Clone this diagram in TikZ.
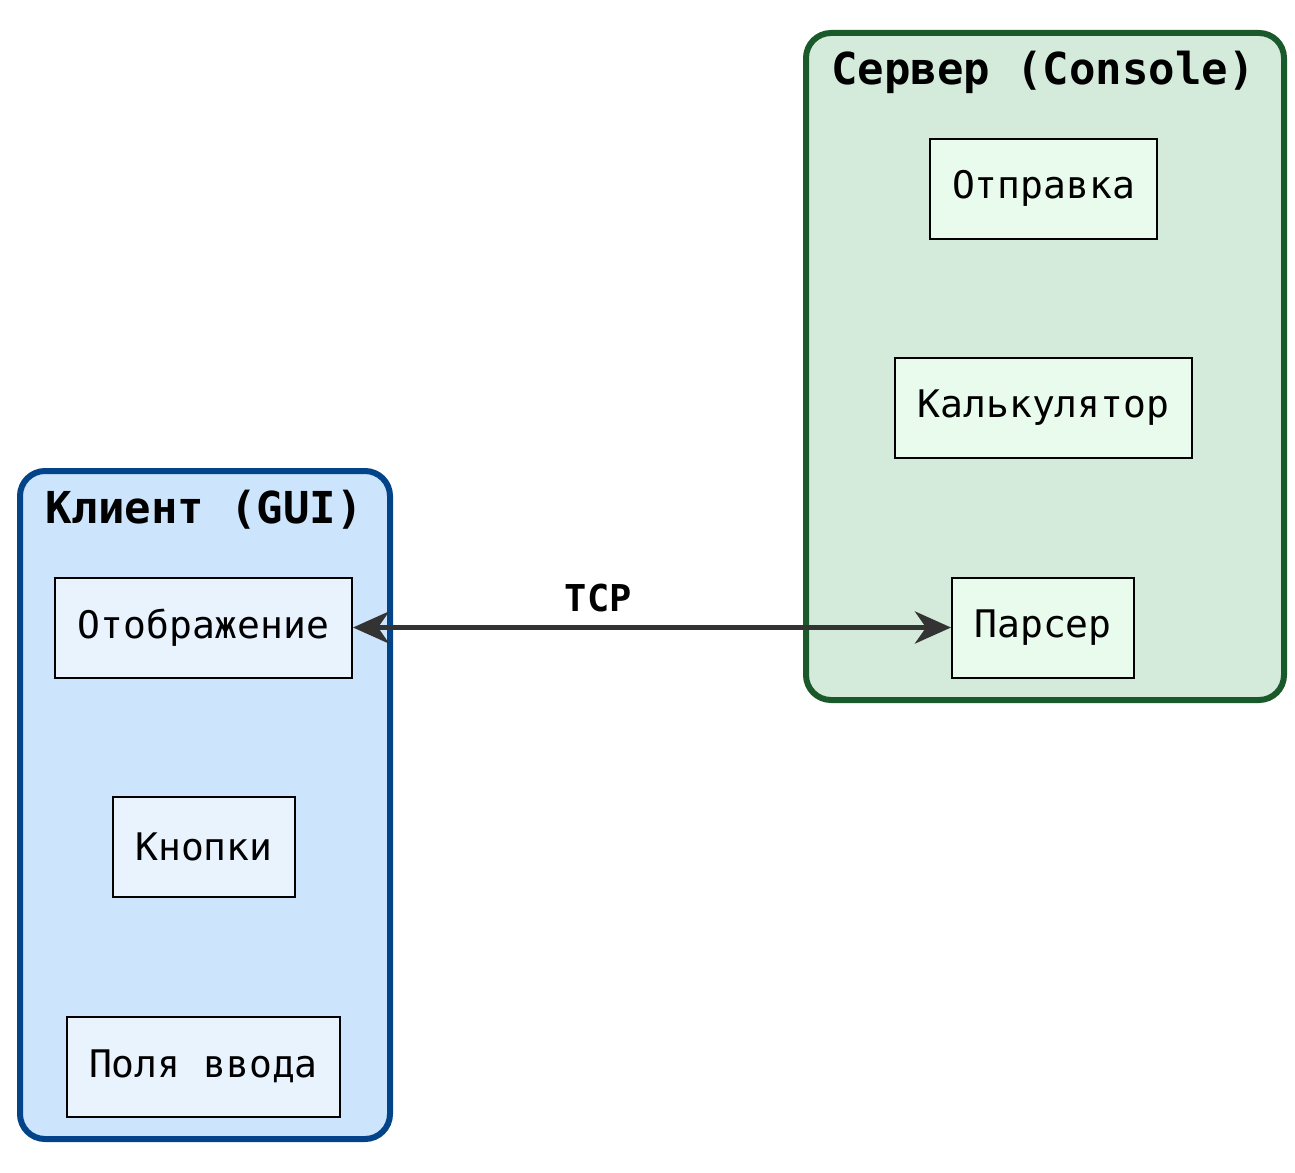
\documentclass[tikz,border=0pt]{standalone}
\usepackage{fontspec}
\setmainfont{DejaVu Sans Mono}
\usetikzlibrary{arrows.meta}
\definecolor{cblue}{HTML}{03438A}
\definecolor{cbluefill}{HTML}{CCE4FC}
\definecolor{cbluenode}{HTML}{E8F3FE}
\definecolor{cgreen}{HTML}{1A5A2A}
\definecolor{cgreenfill}{HTML}{D4EBDB}
\definecolor{cgreennode}{HTML}{E8FBEC}
\definecolor{arrowgray}{HTML}{333333}
\begin{document}
\begin{tikzpicture}[x=1pt,y=-1pt,
  container/.style={line width=6pt, rounded corners=25pt},
  title/.style={font=\fontsize{44}{48}\selectfont\bfseries, anchor=center},
  item/.style={draw=black, line width=2pt, inner sep=0pt, anchor=center, font=\fontsize{38}{42}\selectfont},
  clientitem/.style={item, fill=cbluenode},
  serveritem/.style={item, fill=cgreennode},
  link/.style={draw=arrowgray, line width=5pt, {Stealth[length=36pt,width=32pt,inset=11pt]}-{Stealth[length=36pt,width=32pt,inset=11pt]}}
]
\useasboundingbox (0,0) rectangle (1295,1172);
% containers
\draw[container, draw=cblue, fill=cbluefill] (20,471) rectangle (390,1139);
\draw[container, draw=cgreen, fill=cgreenfill] (806,33) rectangle (1284,700);
\node[title] (ctitle) at (204,510) {Клиент (GUI)};
\node[title] (stitle) at (1043,72) {Сервер (Console)};
% client nodes
\node[clientitem, minimum width=297pt, minimum height=100pt] (disp) at (203.5,627.5) {Отображение};
\node[clientitem, minimum width=182pt, minimum height=100pt] (btn) at (204,847) {Кнопки};
\node[clientitem, minimum width=273pt, minimum height=100pt] (inp) at (203.5,1066.5) {Поля ввода};
% server nodes
\node[serveritem, minimum width=227pt, minimum height=100pt] (send) at (1043.5,188.5) {Отправка};
\node[serveritem, minimum width=297pt, minimum height=100pt] (calc) at (1043.5,408) {Калькулятор};
\node[serveritem, minimum width=182pt, minimum height=100pt] (pars) at (1043,627.5) {Парсер};
% connector
\draw[link] (disp.east) -- node[pos=0.41, above=10pt, font=\fontsize{37}{40}\selectfont\bfseries, text=black] (tcp) {TCP} (pars.west);
\end{tikzpicture}
\end{document}
